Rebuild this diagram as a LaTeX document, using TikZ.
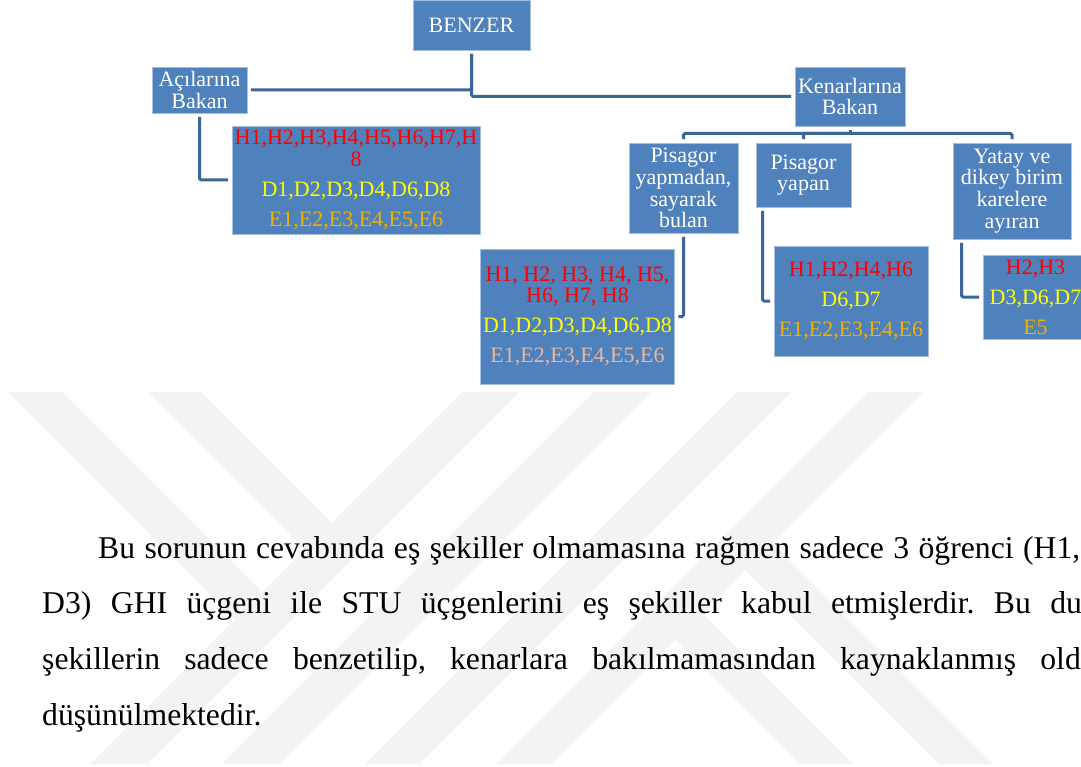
\documentclass[tikz,border=0pt]{standalone}
\usepackage{fontspec}
\setmainfont{Liberation Serif}
\definecolor{boxblue}{HTML}{4F81BD}
\definecolor{boxedge}{HTML}{A7BFDE}
\definecolor{linkblue}{HTML}{3D6698}
\definecolor{hred}{HTML}{FF0000}
\definecolor{dyel}{HTML}{FFFF00}
\definecolor{egold}{HTML}{F0B000}
\definecolor{etan}{HTML}{E8B89A}
\definecolor{wmgray}{HTML}{F3F3F3}
\begin{document}
\begin{tikzpicture}[x=1pt,y=-1pt,
  box/.style={rectangle, fill=boxblue, draw=boxedge, line width=0.8pt,
    text=white, align=center, inner sep=0pt,
    font=\fontsize{22}{21.7}\selectfont},
  conn/.style={draw=linkblue, line width=3pt, rounded corners=1.5pt,
    shorten <=3.5pt, shorten >=3.5pt},
  para/.style={inner sep=0pt, anchor=base west,
    font=\fontsize{31.7}{38}\selectfont},
  wmark/.style={fill=wmgray}
]
\useasboundingbox (0,0) rectangle (1081,767);
\clip (0,0) rectangle (1081,767);
\fill[white] (0,0) rectangle (1081,767);

% background logo stripes
\fill[wmark] (462,392) -- (519,392) -- (147,764) -- (90,764) -- cycle;
\fill[wmark] (594,392) -- (651,392) -- (279,764) -- (222,764) -- cycle;
\fill[wmark] (737,392) -- (791,392) -- (419,764) -- (365,764) -- cycle;
\fill[wmark] (868,392) -- (923,392) -- (551,764) -- (496,764) -- cycle;
\fill[wmark] (8,392) -- (62,392) -- (262,592) -- (235,619) -- cycle;
\fill[wmark] (147,392) -- (201,392) -- (331.5,522.5) -- (304.5,549.5) -- cycle;
\fill[wmark] (745,570) -- (772,543) -- (993,764) -- (939,764) -- cycle;
\fill[wmark] (675,640) -- (702,613) -- (853,764) -- (799,764) -- cycle;

% hierarchy boxes
\node[box, minimum width=117pt, minimum height=50pt] (benzer) at (471.5,25) {BENZER};
\node[box, minimum width=95pt, minimum height=46pt] (aci) at (199.5,90) {Açılarına\\Bakan};
\node[box, minimum width=110pt, minimum height=59pt] (ken) at (850,96.5) {Kenarlarına\\Bakan};
\node[box, minimum width=248pt, minimum height=108pt] (list1) at (356,180)
  {\textcolor{hred}{H1,H2,H3,H4,H5,H6,H7,H}\\\textcolor{hred}{8}\\[8.3pt]
   \textcolor{dyel}{D1,D2,D3,D4,D6,D8}\\[8.3pt]\textcolor{egold}{E1,E2,E3,E4,E5,E6}};
\node[box, minimum width=109pt, minimum height=90pt] (pis1) at (683.5,188) {Pisagor\\yapmadan,\\sayarak\\bulan};
\node[box, minimum width=95pt, minimum height=64pt] (pis2) at (803.5,175) {Pisagor\\yapan};
\node[box, minimum width=118pt, minimum height=96pt] (yatay) at (1012,191) {Yatay ve\\dikey birim\\karelere\\ayıran};
\node[box, minimum width=194pt, minimum height=135pt] (list2) at (577.5,316.5)
  {\textcolor{hred}{H1, H2, H3, H4, H5,}\\\textcolor{hred}{H6, H7, H8}\\[8.3pt]
   \textcolor{dyel}{D1,D2,D3,D4,D6,D8}\\[8.3pt]\textcolor{etan}{E1,E2,E3,E4,E5,E6}};
\node[box, minimum width=154pt, minimum height=110pt] (list3) at (851,301)
  {\textcolor{hred}{H1,H2,H4,H6}\\[8.3pt]\textcolor{dyel}{D6,D7}\\[8.3pt]\textcolor{egold}{E1,E2,E3,E4,E6}};
\node[box, minimum width=105pt, minimum height=84pt] (list4) at (1035.5,297)
  {\textcolor{hred}{H2,H3}\\[8.3pt]\textcolor{dyel}{D3,D6,D7}\\[8.3pt]\textcolor{egold}{E5}};

% elbow connectors
\draw[conn] (benzer.south) |- (aci.east);
\draw[conn] (benzer.south) |- (ken.west);
\draw[conn] (aci.south) |- (list1.west);
\coordinate (kb) at ([yshift=-7pt]ken.south);
\draw[conn, shorten >=0pt] (ken.south) -- (kb);
\draw[conn, shorten <=0pt] (kb) -| (pis1.north);
\draw[conn, shorten <=0pt] (kb) -| (pis2.north);
\draw[conn, shorten <=0pt] (kb) -| (yatay.north);
\draw[conn] (pis1.south) |- (list2.east);
\draw[conn] ([xshift=7pt]pis2.south west) |- (list3.west);
\draw[conn] ([xshift=9pt]yatay.south west) |- (list4.west);

% paragraph below the chart
\node[para] (l1) at (98,558) {\hbox to 982pt{Bu\hfill sorunun\hfill cevabında\hfill eş\hfill şekiller\hfill olmamasına\hfill rağmen\hfill sadece\hfill 3\hfill öğrenci\hfill (H1,}};
\node[para] (l2) at (42,613.5) {\hbox to 1008pt{D3)\hfill GHI\hfill üçgeni\hfill ile\hfill STU\hfill üçgenlerini\hfill eş\hfill şekiller\hfill kabul\hfill etmişlerdir.\hfill Bu\hfill\rlap{durumun}}};
\node[para] (l3) at (42,669.2) {\hbox to 998pt{şekillerin\hfill sadece\hfill benzetilip,\hfill kenarlara\hfill bakılmamasından\hfill kaynaklanmış\hfill\rlap{olduğu}}};
\node[para] (l4) at (42,725) {düşünülmektedir.};
\end{tikzpicture}
\end{document}
